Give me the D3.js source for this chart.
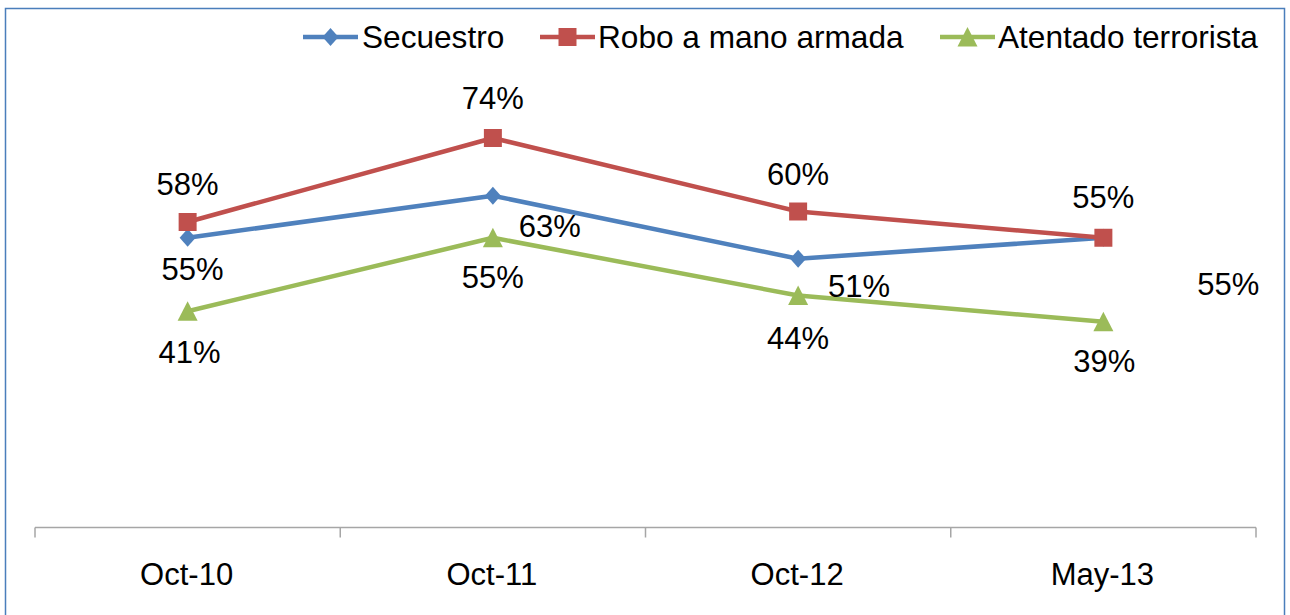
<!DOCTYPE html>
<html>
<head>
<meta charset="utf-8">
<script src="https://cdn.jsdelivr.net/npm/d3@7"></script>
<style>
  html, body { margin: 0; padding: 0; background: #fff; }
  svg { display: block; font-family: "Liberation Sans", Arial, sans-serif; }
</style>
</head>
<body>
<svg id="chart" width="1290" height="615"></svg>
<script>
// ---- data ----
const categories = ["Oct-10", "Oct-11", "Oct-12", "May-13"];
const seriesNames = ["Secuestro", "Robo a mano armada", "Atentado terrorista"];
const secuestro = [55, 63, 51, 55];
const robo = [58, 74, 60, 55];
const atentado = [41, 55, 44, 39];
const yDomain = [0, 80];

// ---- styles / label placement (not data) ----
const colors = ["#4f81bd", "#c0504d", "#9bbb59"];
const markers = ["diamond", "square", "triangle"];
// label offsets relative to point: [dx, dy(baseline)]
const labelOffsets = [
  [[5, 42], [57, 41], [61, 38], [125, 57]],
  [[0, -27], [0, -29], [0, -27], [0, -30]],
  [[2, 52], [0, 50], [0, 53], [1, 50]]
];

const seriesValues = [secuestro, robo, atentado];
const svg = d3.select("#chart");

// border
svg.append("rect").attr("x", 5.5).attr("y", 8.5).attr("width", 1279).attr("height", 640)
  .attr("fill", "none").attr("stroke", "#4a7ebb").attr("stroke-width", 1.5);

const x = d3.scaleBand().domain(categories).range([35, 1256]).paddingInner(0).paddingOuter(0);
const y = d3.scaleLinear().domain(yDomain).range([526.5, 526.5 - 5.25 * 80]);

// x axis
const axisG = svg.append("g").attr("transform", "translate(0,527.5)");
axisG.append("line").attr("x1", 35).attr("x2", 1256).attr("stroke", "#a6a6a6").attr("stroke-width", 1.5);
const tickXs = categories.map(c => x(c)).concat([x(categories[categories.length - 1]) + x.bandwidth()]);
axisG.selectAll("line.tick").data(tickXs).enter().append("line")
  .attr("class", "tick")
  .attr("x1", d => d).attr("x2", d => d).attr("y1", 0).attr("y2", 10)
  .attr("stroke", "#a6a6a6").attr("stroke-width", 1.5);
axisG.selectAll("text").data(categories).enter().append("text")
  .attr("x", d => x(d) + x.bandwidth() / 2 - 1)
  .attr("y", 57.5)
  .attr("text-anchor", "middle")
  .attr("font-size", 31)
  .attr("fill", "#000")
  .text(d => d);

function markerPath(type) {
  if (type === "diamond") return "M0,-9L8,0L0,9L-8,0Z";
  if (type === "square") return "M-9,-9H9V9H-9Z";
  return "M0,-10L10,9.5H-10Z";
}

const cx = c => x(c) + x.bandwidth() / 2;
const line = d3.line().x((d, i) => cx(categories[i])).y(d => y(d));

// draw in order: atentado, secuestro, robo (robo on top)
const order = [2, 0, 1];
order.forEach(s => {
  const vals = seriesValues[s];
  const g = svg.append("g");
  g.append("path").datum(vals).attr("d", line)
    .attr("fill", "none").attr("stroke", colors[s]).attr("stroke-width", 4.5)
    .attr("stroke-linejoin", "round");
  g.selectAll("path.m").data(vals).enter().append("path")
    .attr("class", "m")
    .attr("d", markerPath(markers[s]))
    .attr("transform", (d, i) => `translate(${cx(categories[i])},${y(d)})`)
    .attr("fill", colors[s]);
});

// labels
seriesValues.forEach((vals, s) => {
  svg.append("g").selectAll("text").data(vals).enter().append("text")
    .attr("x", (d, i) => cx(categories[i]) + labelOffsets[s][i][0])
    .attr("y", (d, i) => y(d) + labelOffsets[s][i][1])
    .attr("text-anchor", "middle")
    .attr("font-size", 31)
    .attr("fill", "#000")
    .text(d => d + "%");
});

// legend
const legendItems = [
  { x: 303, tx: 362 },
  { x: 540, tx: 598 },
  { x: 940, tx: 998 }
];
const legend = svg.append("g");
seriesNames.forEach((name, s) => {
  const it = legendItems[s];
  legend.append("line").attr("x1", it.x).attr("x2", it.x + 55).attr("y1", 37).attr("y2", 37)
    .attr("stroke", colors[s]).attr("stroke-width", 4.5);
  legend.append("path").attr("d", markerPath(markers[s]))
    .attr("transform", `translate(${it.x + 27.5},37)`).attr("fill", colors[s]);
  legend.append("text").attr("x", it.tx).attr("y", 47.5)
    .attr("font-size", 31.6).attr("fill", "#000").text(name);
});
</script>
</body>
</html>
